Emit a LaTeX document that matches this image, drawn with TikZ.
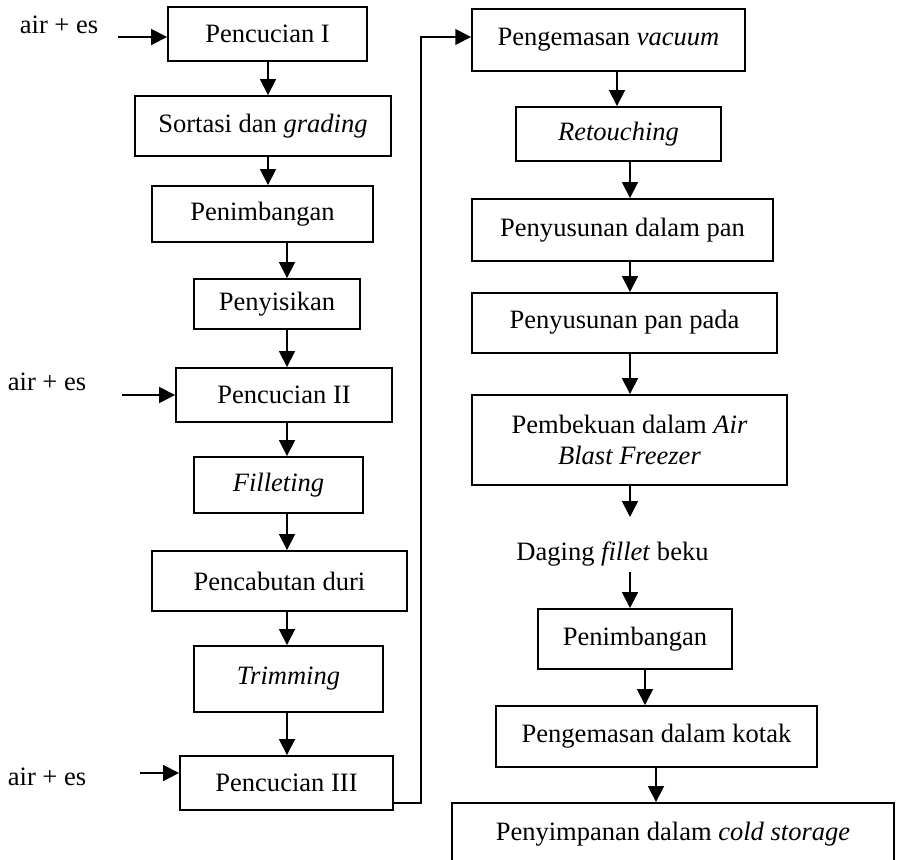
\documentclass[tikz,border=0pt]{standalone}
\usepackage{fontspec}
\setmainfont{Liberation Serif}
\usetikzlibrary{arrows.meta, positioning}
\tikzstyle{process} = [rectangle, draw=black, line width=1.1pt, text centered, inner sep=2pt]
\tikzstyle{note} = [text centered]
\tikzstyle{arrow} = [line width=1pt, -{Triangle[length=9pt, width=9pt]}]

\begin{document}
\begin{tikzpicture}[x=0.02cm, y=-0.02cm, font=\fontsize{15.1pt}{17.6pt}\selectfont]
\clip (0,0) rectangle (899,859);
% left column
\node (p1) [process, minimum width=3.98cm, minimum height=1.08cm] at (267.5,34) {Pencucian I};
\node (sort) [process, minimum width=5.12cm, minimum height=1.2cm] at (263,126) {Sortasi dan \textit{grading}};
\node (tim1) [process, minimum width=4.42cm, minimum height=1.12cm] at (262.5,214) {Penimbangan};
\node (sisik) [process, minimum width=3.32cm, minimum height=1cm] at (277,304) {Penyisikan};
\node (p2) [process, minimum width=4.32cm, minimum height=1.08cm] at (284,395) {Pencucian II};
\node (fil) [process, minimum width=3.38cm, minimum height=1.12cm] at (278.5,485) {\textit{Filleting}};
\node (duri) [process, minimum width=5.1cm, minimum height=1.2cm] at (279.5,581) {Pencabutan duri};
\node (trim) [process, minimum width=3.78cm, minimum height=1.32cm] at (288.5,679) {\textit{Trimming}};
\node (p3) [process, minimum width=4.26cm, minimum height=1.08cm] at (286.5,783) {Pencucian III};
% air + es inputs
\node (a1) [note] at (59,25) {air + es};
\node (a2) [note] at (47,381.5) {air + es};
\node (a3) [note] at (47,776.5) {air + es};
\coordinate (in1) at (118,37);
\coordinate (in2) at (122,395);
\coordinate (in3) at (140,773);
% right column
\node (vac) [process, minimum width=5.46cm, minimum height=1.24cm] at (608.5,40) {Pengemasan \textit{vacuum}};
\node (ret) [process, minimum width=4.1cm, minimum height=1.08cm] at (618.5,134) {\textit{Retouching}};
\node (pan) [process, minimum width=6.02cm, minimum height=1.24cm] at (622.5,230) {Penyusunan dalam pan};
\node (pada) [process, minimum width=6.1cm, minimum height=1.2cm] at (624.5,323) {\raisebox{4pt}{Penyusunan pan pada}};
\node (beku) [process, minimum width=6.3cm, minimum height=1.8cm, align=center] at (629.5,440) {Pembekuan dalam \textit{Air}\\\textit{Blast Freezer}};
\node (daging) [note] at (612.5,554) {Daging \textit{fillet} beku};
\node (tim2) [process, minimum width=3.88cm, minimum height=1.2cm] at (635,639) {Penimbangan};
\node (kotak) [process, minimum width=6.42cm, minimum height=1.22cm] at (656.5,736.5) {Pengemasan dalam kotak};
\node (simpan) [process, minimum width=8.84cm, minimum height=1.24cm] at (673,834) {Penyimpanan dalam \textit{cold storage}};
\coordinate (frozen) at (630,517);
% arrow axes
\coordinate (axL1) at (268,0);
\coordinate (axL2) at (287,0);
\coordinate (axR1) at (617,0);
\coordinate (axR2) at (630,0);
\coordinate (axR3) at (645,0);
\coordinate (axR4) at (656,0);
\coordinate (loopB) at (421,803);
\coordinate (loopT) at (421,37);
% connectors
\draw [arrow] (in1) -- (in1 -| p1.west);
\draw [arrow] (in2) -- (in2 -| p2.west);
\draw [arrow] (in3) -- (in3 -| p3.west);
\draw [arrow] (p1.south -| axL1) -- (sort.north -| axL1);
\draw [arrow] (sort.south -| axL1) -- (tim1.north -| axL1);
\draw [arrow] (tim1.south -| axL2) -- (sisik.north -| axL2);
\draw [arrow] (sisik.south -| axL2) -- (p2.north -| axL2);
\draw [arrow] (p2.south -| axL2) -- (fil.north -| axL2);
\draw [arrow] (fil.south -| axL2) -- (duri.north -| axL2);
\draw [arrow] (duri.south -| axL2) -- (trim.north -| axL2);
\draw [arrow] (trim.south -| axL2) -- (p3.north -| axL2);
\draw [arrow] (p3.east |- loopB) -- (loopB) -- (loopT) -- (loopT -| vac.west);
\draw [arrow] (vac.south -| axR1) -- (ret.north -| axR1);
\draw [arrow] (ret.south -| axR2) -- (pan.north -| axR2);
\draw [arrow] (pan.south -| axR2) -- (pada.north -| axR2);
\draw [arrow] (pada.south -| axR2) -- (beku.north -| axR2);
\draw [arrow] (beku.south -| frozen) -- (frozen);
\draw [arrow] (daging.south -| axR2) -- (tim2.north -| axR2);
\draw [arrow] (tim2.south -| axR3) -- (kotak.north -| axR3);
\draw [arrow] (kotak.south -| axR4) -- (simpan.north -| axR4);
\end{tikzpicture}
\end{document}
